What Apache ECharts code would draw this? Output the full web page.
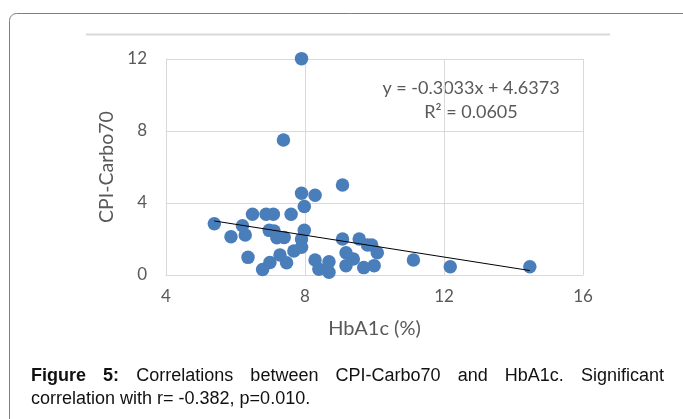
<!DOCTYPE html>
<html>
<head>
<meta charset="utf-8">
<script src="https://cdn.jsdelivr.net/npm/echarts@6/dist/echarts.min.js"></script>
<style>
  html, body { margin: 0; padding: 0; background: #fff; }
  #wrap { position: relative; width: 683px; height: 419px; overflow: hidden; }
  #chart { position: absolute; left: 0; top: 0; width: 683px; height: 419px; }
  #caption {
    position: absolute; left: 31px; top: 364px; width: 633px;
    font-family: "Liberation Sans", Arial, sans-serif; font-size: 18px; line-height: 22.5px;
    color: #111;
  }
  #caption .l1 { text-align: justify; text-align-last: justify; white-space: nowrap; }
</style>
</head>
<body>
<div id="wrap">
  <div id="chart"></div>
  <div id="caption">
    <div class="l1"><b>Figure 5:</b> Correlations between CPI-Carbo70 and HbA1c. Significant</div>
    <div>correlation with r= -0.382, p=0.010.</div>
  </div>
</div>
<script>
// 数据: HbA1c (%) 与 CPI-Carbo70
var hba1c = [7.90, 7.38, 9.08, 7.90, 8.29, 7.98, 6.49, 6.88, 7.09, 7.60,
             5.39, 6.20, 5.87, 6.28, 6.97, 7.11, 7.19, 7.40, 7.98, 7.90,
             7.90, 7.68, 7.28, 7.47, 6.36, 6.99, 6.78, 8.29, 8.69, 8.40,
             8.69, 9.08, 9.18, 9.39, 9.18, 9.56, 9.80, 9.92, 10.08, 9.69,
             9.99, 11.12, 12.18, 14.47];
var cpi = [12.02, 7.50, 5.00, 4.54, 4.43, 3.80, 3.37, 3.37, 3.37, 3.37,
           2.85, 2.74, 2.13, 2.22, 2.48, 2.44, 2.07, 2.09, 2.48, 2.00,
           1.54, 1.33, 1.11, 0.68, 0.98, 0.70, 0.30, 0.83, 0.74, 0.32,
           0.15, 2.00, 1.24, 0.89, 0.52, 2.00, 1.67, 1.67, 1.24, 0.41,
           0.52, 0.83, 0.46, 0.46];

// 趋势线 y = slope * x + intercept
var slope = -0.3033;
var intercept = 4.6373;
var rSquared = 0.0605;

var xTicks = { min: 4, max: 16, interval: 4 };
var yTicks = { min: 0, max: 12, interval: 4 };

var myChart = echarts.init(document.getElementById('chart'));

var points = hba1c.map(function (x, i) { return [x, cpi[i]]; });
var xMin = Math.min.apply(null, hba1c);
var xMax = Math.max.apply(null, hba1c);
var trend = [[xMin, slope * xMin + intercept], [xMax, slope * xMax + intercept]];

var font = 'Lato, "Open Sans", sans-serif';
var grey = '#595959';

var option = {
    backgroundColor: '#fff',
    animation: false,
    grid: { left: 166, top: 59, width: 417, height: 216, containLabel: false },
    xAxis: {
        type: 'value',
        min: xTicks.min, max: xTicks.max, interval: xTicks.interval,
        name: 'HbA1c (%)',
        nameLocation: 'middle',
        nameGap: 44,
        nameTextStyle: { color: grey, fontSize: 20, fontFamily: font },
        axisLine: { show: true, lineStyle: { color: '#d9d9d9', width: 1 } },
        axisTick: { show: false },
        axisLabel: { color: grey, fontSize: 17, fontFamily: font, margin: 13 },
        splitLine: { show: true, lineStyle: { color: '#d9d9d9', width: 1 } }
    },
    yAxis: {
        type: 'value',
        min: yTicks.min, max: yTicks.max, interval: yTicks.interval,
        name: 'CPI-Carbo70',
        nameLocation: 'middle',
        nameGap: 49,
        nameTextStyle: { color: grey, fontSize: 19.5, fontFamily: font },
        axisLine: { show: true, lineStyle: { color: '#d9d9d9', width: 1 } },
        axisTick: { show: false },
        axisLabel: { color: grey, fontSize: 17, fontFamily: font, margin: 19 },
        splitLine: { show: true, lineStyle: { color: '#d9d9d9', width: 1 } }
    },
    graphic: [
        {
            type: 'rect',
            shape: { x: 9.5, y: 13.5, width: 700, height: 450, r: 7 },
            style: { fill: 'none', stroke: '#7f7f7f', lineWidth: 1 },
            silent: true
        },
        {
            type: 'line',
            shape: { x1: 86, y1: 34.5, x2: 610, y2: 34.5 },
            style: { stroke: '#d9d9d9', lineWidth: 2 },
            silent: true
        },
        {
            type: 'text',
            style: {
                text: 'y = ' + slope + 'x + ' + intercept,
                x: 471, y: 88, align: 'center', verticalAlign: 'middle',
                fill: grey, font: '18px ' + font
            }
        },
        {
            type: 'text',
            style: {
                text: 'R² = ' + rSquared,
                x: 471, y: 112, align: 'center', verticalAlign: 'middle',
                fill: grey, font: '18px ' + font
            }
        }
    ],
    series: [
        {
            type: 'scatter',
            data: points,
            symbolSize: 13.5,
            clip: false,
            itemStyle: { color: '#4a7ebb', opacity: 1 },
            z: 2
        },
        {
            type: 'line',
            data: trend,
            symbol: 'none',
            lineStyle: { color: '#000', width: 1 },
            z: 3
        }
    ]
};

myChart.setOption(option);
</script>
</body>
</html>
